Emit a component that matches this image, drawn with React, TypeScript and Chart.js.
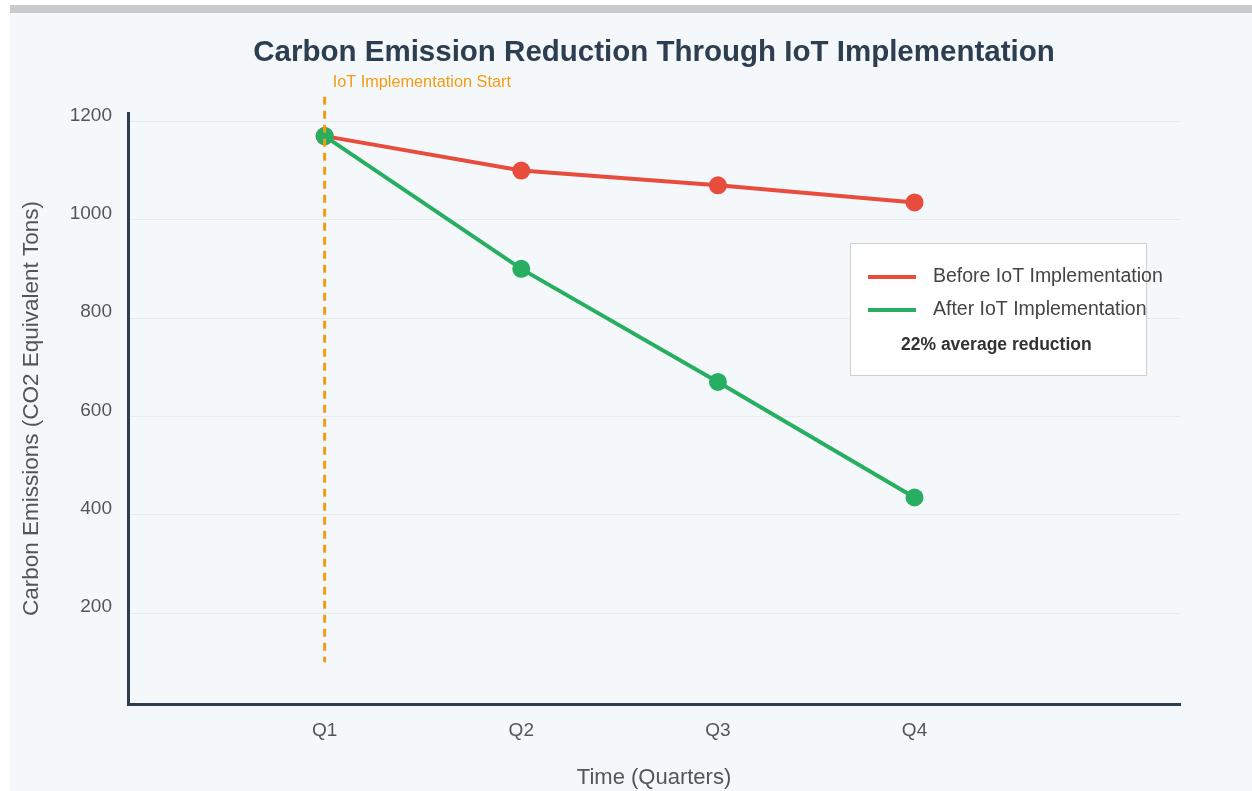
import React, { useEffect, useRef } from 'react';
import { Chart, registerables } from 'chart.js';

Chart.register(...registerables);

// ---- data ----
const QUARTERS = ['Q1', 'Q2', 'Q3', 'Q4'];
const BEFORE_IOT = [1170, 1100, 1070, 1035];
const AFTER_IOT = [1170, 900, 670, 435];
const Y_TICKS = [200, 400, 600, 800, 1000, 1200];
const Y_MIN = 15;
const Y_MAX = 1217;
const X_MIN = 0;
const X_MAX = 5.35;
const SERIES_NAMES = ['Before IoT Implementation', 'After IoT Implementation'];
const TITLE = 'Carbon Emission Reduction Through IoT Implementation';
const Y_TITLE = 'Carbon Emissions (CO2 Equivalent Tons)';
const X_TITLE = 'Time (Quarters)';
const MARKER_QUARTER = 'Q1';
const MARKER_FROM = 100;
const MARKER_TO = 1250;
const MARKER_LABEL_AT = 1280;
const MARKER_LABEL = 'IoT Implementation Start';
const REDUCTION_NOTE = '22% average reduction';

// ---- styles ----
const FONT = '"Liberation Sans", Arial, Helvetica, sans-serif';
const RED = '#e74c3c';
const GREEN = '#27ae60';
const ORANGE = '#f39c12';
const DARK = '#2c3e50';

const qPos = (q: string) => QUARTERS.indexOf(q) + 1;

const overlayPlugin = {
  id: 'overlay',
  afterDatasetsDraw(chart: any) {
    const { ctx, chartArea } = chart;
    const x = chart.scales.x;
    const y = chart.scales.y;
    ctx.save();

    // title
    ctx.fillStyle = DARK;
    ctx.font = `bold 29.5px ${FONT}`;
    ctx.textAlign = 'center';
    ctx.textBaseline = 'middle';
    ctx.fillText(TITLE, (chartArea.left + chartArea.right) / 2, 40);

    // implementation marker
    const px = x.getPixelForValue(qPos(MARKER_QUARTER));
    ctx.strokeStyle = ORANGE;
    ctx.lineWidth = 3;
    ctx.setLineDash([8, 6]);
    ctx.beginPath();
    ctx.moveTo(px, y.getPixelForValue(MARKER_TO));
    ctx.lineTo(px, y.getPixelForValue(MARKER_FROM));
    ctx.stroke();
    ctx.setLineDash([]);
    ctx.fillStyle = ORANGE;
    ctx.font = `16.3px ${FONT}`;
    ctx.textAlign = 'left';
    ctx.textBaseline = 'middle';
    ctx.fillText(MARKER_LABEL, px + 8, y.getPixelForValue(MARKER_LABEL_AT));

    // legend box
    const bx = chartArea.left + 722;
    const by = chartArea.top + 130;
    const bw = 296;
    const bh = 132;
    ctx.fillStyle = '#ffffff';
    ctx.fillRect(bx, by, bw, bh);
    ctx.strokeStyle = '#cfcfcf';
    ctx.lineWidth = 1;
    ctx.strokeRect(bx + 0.5, by + 0.5, bw, bh);

    const colors = [RED, GREEN];
    SERIES_NAMES.forEach((name, i) => {
      const ly = by + 34 + i * 33;
      ctx.strokeStyle = colors[i];
      ctx.lineWidth = 4;
      ctx.beginPath();
      ctx.moveTo(bx + 18, ly);
      ctx.lineTo(bx + 66, ly);
      ctx.stroke();
      ctx.fillStyle = '#444444';
      ctx.font = `19.5px ${FONT}`;
      ctx.textAlign = 'left';
      ctx.textBaseline = 'middle';
      ctx.fillText(name, bx + 83, ly);
    });
    ctx.fillStyle = '#333333';
    ctx.font = `bold 17.5px ${FONT}`;
    ctx.fillText(REDUCTION_NOTE, bx + 51, by + 102);
    ctx.restore();
  },
};

export default function App() {
  const ref = useRef<HTMLCanvasElement | null>(null);

  useEffect(() => {
    if (!ref.current) return;
    const chart = new Chart(ref.current, {
      type: 'line',
      data: {
        datasets: [
          {
            label: SERIES_NAMES[0],
            data: BEFORE_IOT.map((v, i) => ({ x: qPos(QUARTERS[i]), y: v })),
            borderColor: RED,
            backgroundColor: RED,
            borderWidth: 4,
            pointRadius: 9,
            pointBorderWidth: 0,
            pointBackgroundColor: RED,
            order: 1,
          },
          {
            label: SERIES_NAMES[1],
            data: AFTER_IOT.map((v, i) => ({ x: qPos(QUARTERS[i]), y: v })),
            borderColor: GREEN,
            backgroundColor: GREEN,
            borderWidth: 4,
            pointRadius: 9,
            pointBorderWidth: 0,
            pointBackgroundColor: GREEN,
            order: 0,
          },
        ],
      },
      options: {
        animation: false,
        responsive: false,
        layout: { padding: { left: 0, right: 72, top: 100, bottom: 0 } },
        plugins: {
          legend: { display: false },
          tooltip: { enabled: false },
          title: { display: false },
        },
        scales: {
          x: {
            type: 'linear',
            min: X_MIN,
            max: X_MAX,
            afterBuildTicks: (s: any) => {
              s.ticks = QUARTERS.map((q) => ({ value: qPos(q) }));
            },
            afterFit: (s: any) => {
              s.height = 87;
            },
            ticks: {
              color: '#555555',
              font: { family: FONT, size: 19 },
              padding: 15,
              callback: (v: any) => QUARTERS[Number(v) - 1] ?? '',
            },
            grid: { display: false, drawTicks: false },
            border: { display: true, color: DARK, width: 3 },
            title: {
              display: true,
              text: X_TITLE,
              color: '#555555',
              font: { family: FONT, size: 22 },
              padding: { top: 0, bottom: 0 },
            },
          },
          y: {
            type: 'linear',
            min: Y_MIN,
            max: Y_MAX,
            afterBuildTicks: (s: any) => {
              s.ticks = Y_TICKS.map((v) => ({ value: v }));
            },
            afterFit: (s: any) => {
              s.width = 118;
            },
            ticks: {
              color: '#555555',
              font: { family: FONT, size: 19 },
              padding: 16,
              labelOffset: -6,
              callback: (v: any) => String(v),
            },
            grid: { color: 'rgba(0,0,0,0.05)', lineWidth: 1, drawTicks: false },
            border: { display: true, color: DARK, width: 3 },
            title: {
              display: true,
              text: Y_TITLE,
              color: '#555555',
              font: { family: FONT, size: 22.5 },
              padding: { top: 8, bottom: 0 },
            },
          },
        },
      } as any,
      plugins: [overlayPlugin],
    });
    return () => chart.destroy();
  }, []);

  return (
    <div
      style={{
        position: 'absolute',
        left: 10,
        top: 5,
        width: 1242,
        height: 786,
        boxSizing: 'border-box',
        borderTop: '8px solid #c8cacc',
        background: '#f5f8fa',
      }}
    >
      <canvas ref={ref} width={1242} height={778} style={{ display: 'block' }} />
    </div>
  );
}
